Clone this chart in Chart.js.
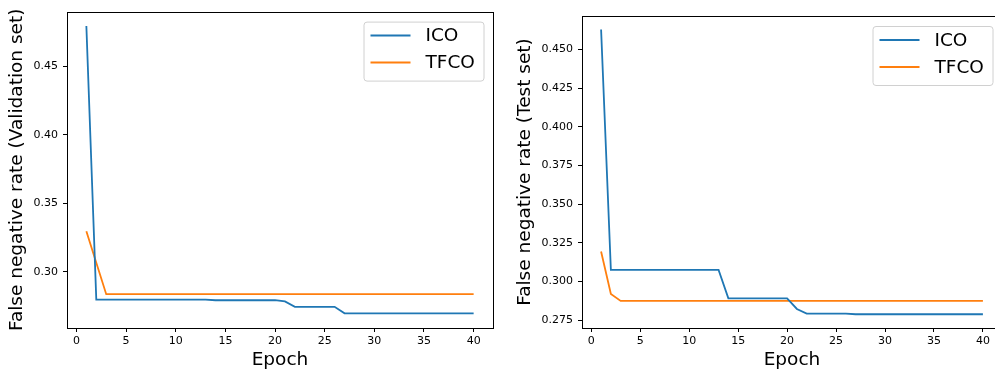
<!DOCTYPE html>
<html>
<head>
<meta charset="utf-8">
<script src="https://cdn.jsdelivr.net/npm/chart.js@4"></script>
<style>
  html, body { margin: 0; padding: 0; background: #fff; overflow: hidden; }
  #wrap { position: relative; width: 995px; height: 375px; overflow: hidden; }
  canvas { position: absolute; top: 0; }
</style>
</head>
<body>
<div id="wrap">
  <canvas id="valChart" width="500" height="375" style="left:0"></canvas>
  <canvas id="testChart" width="510" height="375" style="left:500px"></canvas>
</div>
<script>
const epochs = [1, 2, 3, 4, 5, 6, 7, 8, 9, 10, 11, 12, 13, 14, 15, 16, 17, 18, 19, 20,
                21, 22, 23, 24, 25, 26, 27, 28, 29, 30, 31, 32, 33, 34, 35, 36, 37, 38, 39, 40];

// validation set
const valICO = [0.4797, 0.2797, 0.2797, 0.2797, 0.2797, 0.2797, 0.2797, 0.2797, 0.2797, 0.2797,
                0.2797, 0.2797, 0.2797, 0.2792, 0.2792, 0.2792, 0.2792, 0.2792, 0.2792, 0.2792,
                0.2783, 0.2744, 0.2744, 0.2744, 0.2744, 0.2744, 0.2696, 0.2696, 0.2696, 0.2696,
                0.2696, 0.2696, 0.2696, 0.2696, 0.2696, 0.2696, 0.2696, 0.2696, 0.2696, 0.2696];
const valTFCO = [0.3297, 0.3066, 0.2836, 0.2836, 0.2836, 0.2836, 0.2836, 0.2836, 0.2836, 0.2836,
                 0.2836, 0.2836, 0.2836, 0.2836, 0.2836, 0.2836, 0.2836, 0.2836, 0.2836, 0.2836,
                 0.2836, 0.2836, 0.2836, 0.2836, 0.2836, 0.2836, 0.2836, 0.2836, 0.2836, 0.2836,
                 0.2836, 0.2836, 0.2836, 0.2836, 0.2836, 0.2836, 0.2836, 0.2836, 0.2836, 0.2836];

// test set
const testICO = [0.4629, 0.3075, 0.3075, 0.3075, 0.3075, 0.3075, 0.3075, 0.3075, 0.3075, 0.3075,
                 0.3075, 0.3075, 0.3075, 0.2892, 0.2892, 0.2892, 0.2892, 0.2892, 0.2892, 0.2892,
                 0.2823, 0.2793, 0.2793, 0.2793, 0.2793, 0.2793, 0.2789, 0.2789, 0.2789, 0.2789,
                 0.2789, 0.2789, 0.2789, 0.2789, 0.2789, 0.2789, 0.2789, 0.2789, 0.2789, 0.2789];
const testTFCO = [0.3194, 0.2920, 0.2875, 0.2875, 0.2875, 0.2875, 0.2875, 0.2875, 0.2875, 0.2875,
                  0.2875, 0.2875, 0.2875, 0.2875, 0.2875, 0.2875, 0.2875, 0.2875, 0.2875, 0.2875,
                  0.2875, 0.2875, 0.2875, 0.2875, 0.2875, 0.2875, 0.2875, 0.2875, 0.2875, 0.2875,
                  0.2875, 0.2875, 0.2875, 0.2875, 0.2875, 0.2875, 0.2875, 0.2875, 0.2875, 0.2875];

const xTicks = [0, 5, 10, 15, 20, 25, 30, 35, 40];
const valYTicks = [0.30, 0.35, 0.40, 0.45];
const testYTicks = [0.275, 0.300, 0.325, 0.350, 0.375, 0.400, 0.425, 0.450];

const BLUE = '#1f77b4';
const ORANGE = '#ff7f0e';
const FONT = "'DejaVu Sans', sans-serif";

Chart.defaults.font.family = FONT;
Chart.defaults.color = '#000';

function points(ys) {
  return epochs.map((e, i) => ({ x: e, y: ys[i] }));
}

// matplotlib style box + legend in the upper right corner
const mplPlugin = {
  id: 'mpl',
  afterDatasetsDraw(chart) {
    const { ctx, chartArea: a } = chart;
    ctx.save();
    ctx.strokeStyle = '#000';
    ctx.lineWidth = 1;
    ctx.strokeRect(Math.round(a.left) + 0.5, Math.round(a.top) + 0.5,
                   Math.round(a.right - a.left), Math.round(a.bottom - a.top));

    const w = 120, h = 59;
    const bx = a.right - 9.5 - w, by = a.top + 10;
    ctx.fillStyle = 'rgba(255,255,255,0.8)';
    ctx.strokeStyle = '#d0d0d0';
    ctx.beginPath();
    ctx.roundRect(bx + 0.5, by + 0.5, w, h, 3);
    ctx.fill();
    ctx.stroke();
    ctx.font = '18.5px ' + FONT;
    ctx.textBaseline = 'middle';
    chart.data.datasets.forEach((ds, i) => {
      const y = by + 14 + i * 27;
      ctx.strokeStyle = ds.borderColor;
      ctx.lineWidth = 2;
      ctx.beginPath();
      ctx.moveTo(bx + 7, y);
      ctx.lineTo(bx + 47, y);
      ctx.stroke();
      ctx.fillStyle = '#000';
      ctx.fillText(ds.label, bx + 62, y + 1);
    });
    ctx.restore();
  }
};

function makeChart(id, ico, tfco, yTicks, yMin, yMax, decimals, yTitle, opts) {
  return new Chart(document.getElementById(id), {
    type: 'line',
    data: {
      datasets: [
        { label: 'ICO', data: points(ico), borderColor: BLUE, backgroundColor: BLUE },
        { label: 'TFCO', data: points(tfco), borderColor: ORANGE, backgroundColor: ORANGE }
      ]
    },
    options: {
      responsive: false,
      animation: false,
      devicePixelRatio: 1,
      elements: {
        line: { borderWidth: 1.8, tension: 0 },
        point: { radius: 0 }
      },
      layout: { padding: { top: opts.top, right: opts.right, bottom: 0, left: 0 } },
      plugins: { legend: { display: false }, tooltip: { enabled: false } },
      scales: {
        x: {
          type: 'linear',
          min: -0.95,
          max: 41.95,
          afterBuildTicks: s => { s.ticks = xTicks.map(v => ({ value: v })); },
          afterFit: s => { s.height = 47; },
          border: { display: false },
          grid: { drawOnChartArea: false, tickLength: 4, tickColor: '#000' },
          ticks: { font: { size: 11 }, padding: 3, maxRotation: 0, autoSkip: false },
          title: { display: true, text: 'Epoch', font: { size: 18.5 }, padding: { top: 0, bottom: 4 } }
        },
        y: {
          min: yMin,
          max: yMax,
          afterBuildTicks: s => { s.ticks = yTicks.map(v => ({ value: v })); },
          afterFit: s => { s.width = opts.yWidth; },
          border: { display: false },
          grid: { drawOnChartArea: false, tickLength: 4, tickColor: '#000' },
          ticks: { font: { size: 11 }, padding: 5, autoSkip: false,
                   callback: v => v.toFixed(decimals) },
          title: { display: true, text: yTitle, font: { size: 18.5 },
                   padding: { top: opts.titlePad, bottom: 0 } }
        }
      }
    },
    plugins: [mplPlugin]
  });
}

makeChart('valChart', valICO, valTFCO, valYTicks, 0.2589, 0.4902, 2,
  'False negative rate (Validation set)', { top: 9, right: 7, yWidth: 67, titlePad: 6 });
makeChart('testChart', testICO, testTFCO, testYTicks, 0.2700, 0.4716, 3,
  'False negative rate (Test set)', { top: 16, right: 8, yWidth: 82, titlePad: 14 });
</script>
</body>
</html>
